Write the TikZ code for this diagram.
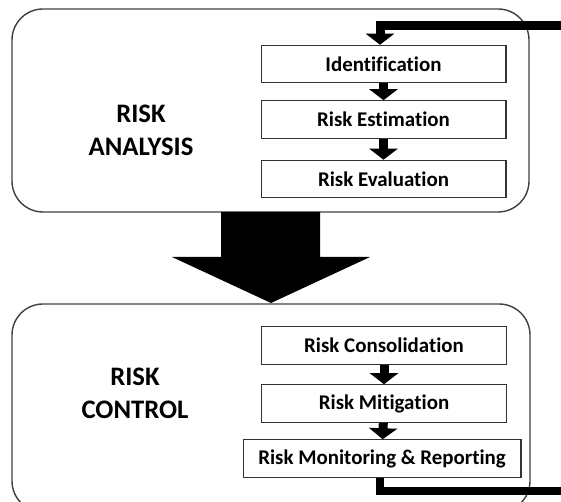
\documentclass[tikz,border=0pt]{standalone}
\usepackage{fontspec}
\setmainfont{Carlito}[Ligatures=NoCommon]
\usetikzlibrary{arrows.meta}

\tikzset{
  panel/.style={draw=black!75,line width=0.8pt,rounded corners=0.62cm},
  stepbox/.style={draw=black!80,line width=0.6pt,fill=white,minimum width=4.9cm,minimum height=0.75cm,inner sep=0pt,font=\fontsize{11.9}{13}\selectfont\bfseries},
  flow/.style={line width=0.18cm,-{Triangle[width=0.56cm,length=0.22cm]}},
  loopline/.style={line width=0.17cm},
  biglabel/.style={align=center,font=\fontsize{15.2}{18.8}\selectfont\bfseries}
}

\begin{document}
\begin{tikzpicture}[x=0.02cm,y=-0.02cm]
\useasboundingbox (0,0) rectangle (561,502);
\clip (0,0) rectangle (561,502);
% the two phases
\draw[panel] (12,9) rectangle (529,212);
\draw[panel] (12,304) rectangle (530,512);
\node[biglabel] (analysis) at (141,130) {RISK\\ANALYSIS};
\node[biglabel] (control) at (135,393) {RISK\\CONTROL};
% big arrow between the phases
\fill[black] (221,212) -- (320,212) -- (320,257) -- (370,257) -- (271,303) -- (172,257) -- (221,257) -- cycle;
% steps
\node[stepbox] (ident) at (383.5,64) {Identification};
\node[stepbox] (estim) at (383.5,119.5) {Risk Estimation};
\node[stepbox] (evalu) at (383.5,179) {Risk Evaluation};
\node[stepbox] (consol) at (384,345.5) {Risk Consolidation};
\node[stepbox] (mitig) at (384,403.5) {Risk Mitigation};
\node[stepbox,minimum width=5.56cm] (monit) at (382,458.5) {Risk Monitoring \& Reporting};
\draw[flow] (ident) -- (estim);
\draw[flow] (estim) -- (evalu);
\draw[flow] (consol) -- (mitig);
\draw[flow] (mitig) -- (monit);
% feedback loop
\coordinate (loopin) at (565,26);
\coordinate (loopout) at (565,491);
\draw[flow] (loopin) -| ([xshift=-0.07cm]ident.north);
\draw[loopline] ([xshift=-0.04cm]monit.south) |- (loopout);
\end{tikzpicture}
\end{document}
